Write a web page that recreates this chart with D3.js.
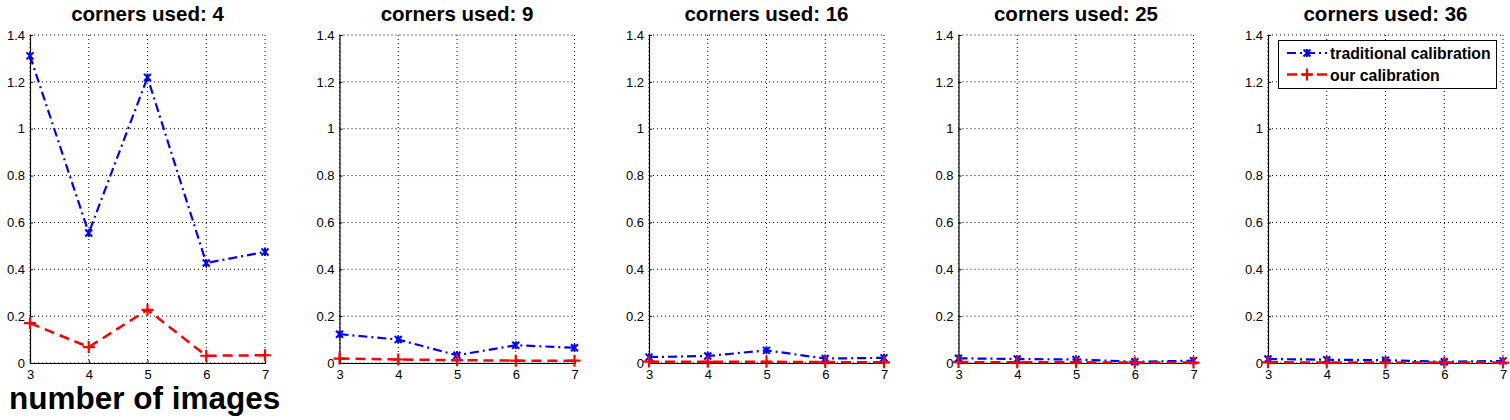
<!DOCTYPE html>
<html><head><meta charset="utf-8">
<script src="https://cdn.jsdelivr.net/npm/d3@7"></script>
<style>body{margin:0;background:#fff}svg{display:block;font-family:"Liberation Sans",Arial,sans-serif}</style>
</head><body>
<svg id="c" width="1510" height="420"></svg>
<script>
const imagesX = [3, 4, 5, 6, 7];
const cornerCounts = [4, 9, 16, 25, 36];
const traditional = [
  [1.311, 0.555, 1.219, 0.427, 0.474],
  [0.123, 0.100, 0.033, 0.076, 0.065],
  [0.025, 0.030, 0.054, 0.019, 0.022],
  [0.020, 0.017, 0.015, 0.005, 0.010],
  [0.017, 0.014, 0.012, 0.005, 0.009]
];
const ours = [
  [0.170, 0.068, 0.227, 0.031, 0.033],
  [0.019, 0.015, 0.012, 0.010, 0.010],
  [0.006, 0.005, 0.005, 0.004, 0.003],
  [0.004, 0.003, 0.003, 0.002, 0.002],
  [0.003, 0.002, 0.002, 0.002, 0.002]
];
const yTicks = [0, 0.2, 0.4, 0.6, 0.8, 1, 1.2, 1.4];
const seriesNames = ["traditional calibration", "our calibration"];
const xLabel = "number of images";

(function () {
const svg = d3.select("#c");
const plotTop = 35, plotBottom = 363, pw = 235;
const y = d3.scaleLinear().domain([0, 1.4]).range([plotBottom, plotTop]);

cornerCounts.forEach((cc, i) => {
  const left = 30 + i * 309.5;
  const x = d3.scaleLinear().domain([3, 7]).range([left, left + pw]);
  const g = svg.append("g");
  g.selectAll(".gx").data(imagesX).enter().append("line")
    .attr("x1", d => x(d)).attr("x2", d => x(d)).attr("y1", plotTop).attr("y2", plotBottom)
    .attr("stroke", "#000").attr("stroke-width", 1).attr("stroke-dasharray", "1,3");
  g.selectAll(".gy").data(yTicks).enter().append("line")
    .attr("x1", left).attr("x2", left + pw).attr("y1", d => y(d)).attr("y2", d => y(d))
    .attr("stroke", "#000").attr("stroke-width", 1).attr("stroke-dasharray", "1,3");
  const ax = g.append("g").attr("transform", `translate(0,${plotBottom})`)
    .call(d3.axisBottom(x).tickValues(imagesX).tickSize(-3).tickPadding(7).tickFormat(d3.format("d")));
  const ay = g.append("g").attr("transform", `translate(${left},0)`)
    .call(d3.axisLeft(y).tickValues(yTicks).tickSize(-3).tickPadding(5).tickFormat(d => String(+d.toFixed(1))));
  [ax, ay].forEach(a => {
    a.select(".domain").attr("stroke", "#000").attr("stroke-width", 1.2);
    a.selectAll("text").attr("font-size", 13).attr("fill", "#000").attr("font-family", '"Liberation Sans",Arial,sans-serif');
  });
  g.append("text").attr("x", left + pw / 2).attr("y", 21).attr("text-anchor", "middle")
    .attr("font-size", 20.5).attr("font-weight", "bold").text("corners used: " + cc);
  const line = d3.line().x((d, k) => x(imagesX[k])).y(d => y(d));
  g.append("path").datum(traditional[i]).attr("d", line).attr("fill", "none")
    .attr("stroke", "#0000ff").attr("stroke-width", 2.2).attr("stroke-dasharray", "9,4,2,4");
  g.append("path").datum(ours[i]).attr("d", line).attr("fill", "none")
    .attr("stroke", "#ff0000").attr("stroke-width", 2.5).attr("stroke-dasharray", "10,6");
  g.selectAll(".mx").data(traditional[i]).enter().append("path")
    .attr("transform", (d, k) => `translate(${x(imagesX[k])},${y(d)})`)
    .attr("d", "M-3.5,-3.5L3.5,3.5M-3.5,3.5L3.5,-3.5M0,-4L0,4")
    .attr("stroke", "#0000ff").attr("stroke-width", 2).attr("fill", "none");
  g.selectAll(".mp").data(ours[i]).enter().append("path")
    .attr("transform", (d, k) => `translate(${x(imagesX[k])},${y(d)})`)
    .attr("d", "M-6,0L6,0M0,-6L0,6")
    .attr("stroke", "#ff0000").attr("stroke-width", 2.2).attr("fill", "none");
});

svg.append("text").attr("x", 9).attr("y", 409).attr("font-size", 31.5).attr("font-weight", "bold").text(xLabel);

const lg = svg.append("g");
lg.append("rect").attr("x", 1278.5).attr("y", 40.5).attr("width", 218).attr("height", 48)
  .attr("fill", "#fff").attr("stroke", "#000").attr("stroke-width", 1);
const legY = [53, 74.5];
lg.append("line").attr("x1", 1287).attr("x2", 1327).attr("y1", legY[0]).attr("y2", legY[0])
  .attr("stroke", "#0000ff").attr("stroke-width", 2.2).attr("stroke-dasharray", "9,4,2,4");
lg.append("path").attr("transform", `translate(1307,${legY[0]})`)
  .attr("d", "M-3.5,-3.5L3.5,3.5M-3.5,3.5L3.5,-3.5M0,-4L0,4").attr("stroke", "#0000ff").attr("stroke-width", 2);
lg.append("line").attr("x1", 1287).attr("x2", 1327).attr("y1", legY[1]).attr("y2", legY[1])
  .attr("stroke", "#ff0000").attr("stroke-width", 2.5).attr("stroke-dasharray", "10,5");
lg.append("path").attr("transform", `translate(1307,${legY[1]})`)
  .attr("d", "M-6,0L6,0M0,-6L0,6").attr("stroke", "#ff0000").attr("stroke-width", 2.2);
seriesNames.forEach((n, k) => {
  lg.append("text").attr("x", 1330).attr("y", legY[k] + 6).attr("font-size", 15.8).attr("font-weight", "bold").text(n);
});
})();
</script>
</body></html>
